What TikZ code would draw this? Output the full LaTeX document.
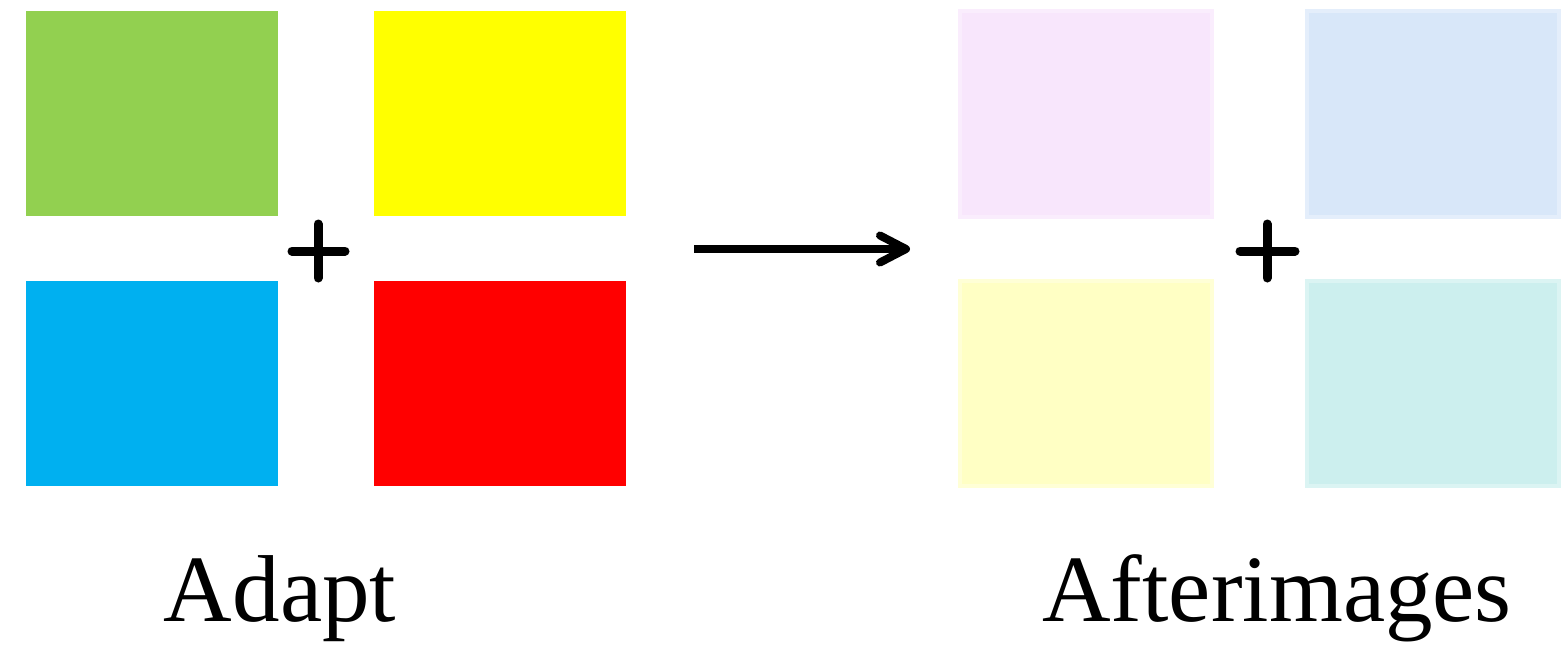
\documentclass[tikz,border=0pt]{standalone}
\usepackage{fontspec}
\setmainfont{Liberation Serif}
\usetikzlibrary{arrows.meta}
\definecolor{cgreen}{HTML}{92D050}
\definecolor{cyellow}{HTML}{FFFF00}
\definecolor{cblue}{HTML}{00B0F0}
\definecolor{cred}{HTML}{FF0000}
\definecolor{apink}{HTML}{F8E6FC}
\definecolor{ablue}{HTML}{D8E7F9}
\definecolor{ayellow}{HTML}{FFFFC4}
\definecolor{acyan}{HTML}{CCEFEE}
\tikzset{
  sq/.style={rectangle, inner sep=0pt, minimum width=126pt, minimum height=102.5pt},
  asq/.style={sq, draw=#1!70!white, line width=2pt, fill=#1},
  plusbar/.style={line width=4.5pt, line cap=round},
  lbl/.style={inner sep=0pt, anchor=base, font=\fontsize{47.5}{57}\selectfont},
}
\begin{document}
\begin{tikzpicture}[x=0.5pt,y=-0.5pt]
\useasboundingbox (0,0) rectangle (1567,658);
% Adapt squares
\node[sq, fill=cgreen]  (g) at (152,113.5) {};
\node[sq, fill=cyellow] (y) at (500,113.5) {};
\node[sq, fill=cblue]   (b) at (152,383) {};
\node[sq, fill=cred]    (r) at (500,383) {};
% left plus
\coordinate (lpL) at (292,251);
\coordinate (lpR) at (345,251);
\coordinate (lpT) at (318,224);
\coordinate (lpB) at (318,278);
\draw[plusbar] (lpL) -- (lpR);
\draw[plusbar] (lpT) -- (lpB);
% arrow
\coordinate (aS) at (694,249);
\coordinate (aE) at (910,249);
\draw[line width=4pt, -{Straight Barb[length=13pt, width=13.5pt, line cap=round, line join=round]}] (aS) -- (aE);
% Afterimage squares
\node[asq=apink]   (p)  at (1086,114) {};
\node[asq=ablue]   (lb) at (1433,114) {};
\node[asq=ayellow] (ly) at (1086,383) {};
\node[asq=acyan]   (lc) at (1433,383) {};
% right plus
\coordinate (rpL) at (1240,251);
\coordinate (rpR) at (1295,251);
\coordinate (rpT) at (1267,224);
\coordinate (rpB) at (1267,278);
\draw[plusbar] (rpL) -- (rpR);
\draw[plusbar] (rpT) -- (rpB);
% labels
\node[lbl] (adapt) at (280,621) {Adapt};
\node[lbl] (after) at (1277,621) {Afterimages};
\end{tikzpicture}
\end{document}
